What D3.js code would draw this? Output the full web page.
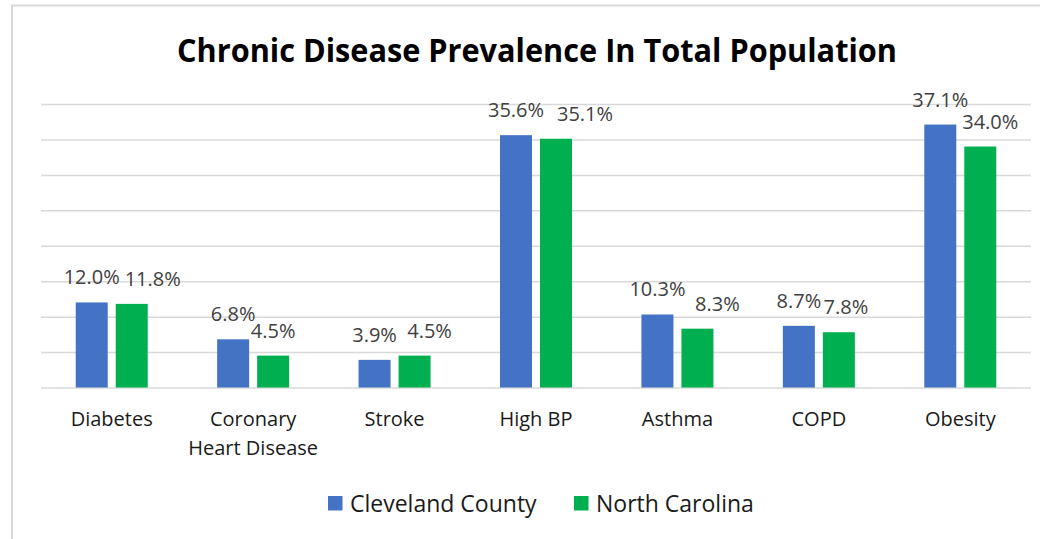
<!DOCTYPE html>
<html>
<head>
<meta charset="utf-8">
<script src="https://cdn.jsdelivr.net/npm/d3@7"></script>
<style>
  html, body { margin: 0; padding: 0; background: #fff; }
  svg { display: block; }
  text { font-family: "Open Sans", "Noto Sans", sans-serif; }
</style>
</head>
<body>
<svg id="chart" width="1040" height="539"></svg>
<script>
// Chronic disease prevalence (%), Cleveland County vs. North Carolina
const categories = ["Diabetes", "Coronary\nHeart Disease", "Stroke", "High BP", "Asthma", "COPD", "Obesity"];
const seriesNames = ["Cleveland County", "North Carolina"];
const clevelandCounty = [12.0, 6.8, 3.9, 35.6, 10.3, 8.7, 37.1];
const northCarolina = [11.8, 4.5, 4.5, 35.1, 8.3, 7.8, 34.0];
const yTicks = [0, 5, 10, 15, 20, 25, 30, 35, 40];
const colors = ["#4472C4", "#00B050"];

const series = [clevelandCounty, northCarolina];
const svg = d3.select("#chart");
const W = 1040, H = 539;

// layout: horizontal nudge (px) of the second series' value labels so they clear the first
const labelNudge = [[0, 0, 0, 0, 0, 0, 0], [21, 0, 15, 29, 20, 7, 10]];

// chart frame
svg.append("path")
  .attr("d", `M12,${H} L12,5.5 L${W},5.5`)
  .attr("fill", "none")
  .attr("stroke", "#d9d9d9")
  .attr("stroke-width", 2);

const plot = { left: 41, right: 1031, top: 104, bottom: 387.5 };

const x = d3.scaleBand()
  .domain(d3.range(categories.length))
  .range([plot.left, plot.right])
  .paddingInner(0).paddingOuter(0);

const y = d3.scaleLinear()
  .domain([0, 40])
  .range([plot.bottom, plot.top]);

// horizontal gridlines
const yAxis = d3.axisLeft(y).tickValues(yTicks).tickSize(-(plot.right - plot.left)).tickFormat("");
const gGrid = svg.append("g").attr("transform", `translate(${plot.left},0)`).call(yAxis);
gGrid.select(".domain").remove();
gGrid.selectAll(".tick line").attr("stroke", "#d9d9d9").attr("stroke-width", 1.5);

// bar geometry within each category band
const barW = 32, innerGap = 8;
const x1 = d3.scaleBand().domain([0, 1]).range([-(barW + innerGap / 2), barW + innerGap / 2]).paddingInner(innerGap / (barW + innerGap)).paddingOuter(0);

const groups = svg.append("g").selectAll("g.cat")
  .data(categories.map((c, i) => i))
  .join("g")
  .attr("class", "cat")
  .attr("transform", i => `translate(${x(i) + x.bandwidth() / 2},0)`);

groups.selectAll("rect")
  .data(i => series.map((s, k) => ({ k, i, v: s[i] })))
  .join("rect")
  .attr("x", d => x1(d.k))
  .attr("width", x1.bandwidth())
  .attr("y", d => y(d.v))
  .attr("height", d => y(0) - y(d.v))
  .attr("fill", d => colors[d.k]);

// value labels
groups.selectAll("text.val")
  .data(i => series.map((s, k) => ({ k, i, v: s[i] })))
  .join("text")
  .attr("class", "val")
  .attr("x", d => x1(d.k) + x1.bandwidth() / 2 + labelNudge[d.k][d.i])
  .attr("y", d => y(d.v) - 18)
  .attr("text-anchor", "middle")
  .attr("font-size", 20)
  .attr("fill", "#404040")
  .text(d => d.v.toFixed(1) + "%");

// category axis labels
const catLabels = svg.append("g").selectAll("text.cat")
  .data(categories.map((c, i) => ({ c, i })))
  .join("text")
  .attr("class", "cat")
  .attr("text-anchor", "middle")
  .attr("font-size", 20)
  .attr("fill", "#1a1a1a")
  .attr("transform", d => `translate(${x(d.i) + x.bandwidth() / 2},426)`);
catLabels.selectAll("tspan")
  .data(d => d.c.split("\n"))
  .join("tspan")
  .attr("x", 0)
  .attr("dy", (d, j) => j === 0 ? 0 : 29)
  .text(d => d);

// title
svg.append("text")
  .attr("x", 537)
  .attr("y", 62)
  .attr("text-anchor", "middle")
  .attr("font-size", 33)
  .attr("font-weight", 700)
  .attr("fill", "#000")
  .attr("textLength", 720)
  .attr("lengthAdjust", "spacingAndGlyphs")
  .text("Chronic Disease Prevalence In Total Population");

// legend
const legendX = [328, 574];
const legend = svg.append("g").selectAll("g.leg")
  .data(seriesNames.map((n, k) => ({ n, k })))
  .join("g")
  .attr("class", "leg")
  .attr("transform", d => `translate(${legendX[d.k]},0)`);
legend.append("rect")
  .attr("x", 0).attr("y", 496)
  .attr("width", 14.5).attr("height", 14.5)
  .attr("fill", d => colors[d.k]);
legend.append("text")
  .attr("x", 22).attr("y", 511.5)
  .attr("font-size", 23)
  .attr("fill", "#1a1a1a")
  .text(d => d.n);
</script>
</body>
</html>
